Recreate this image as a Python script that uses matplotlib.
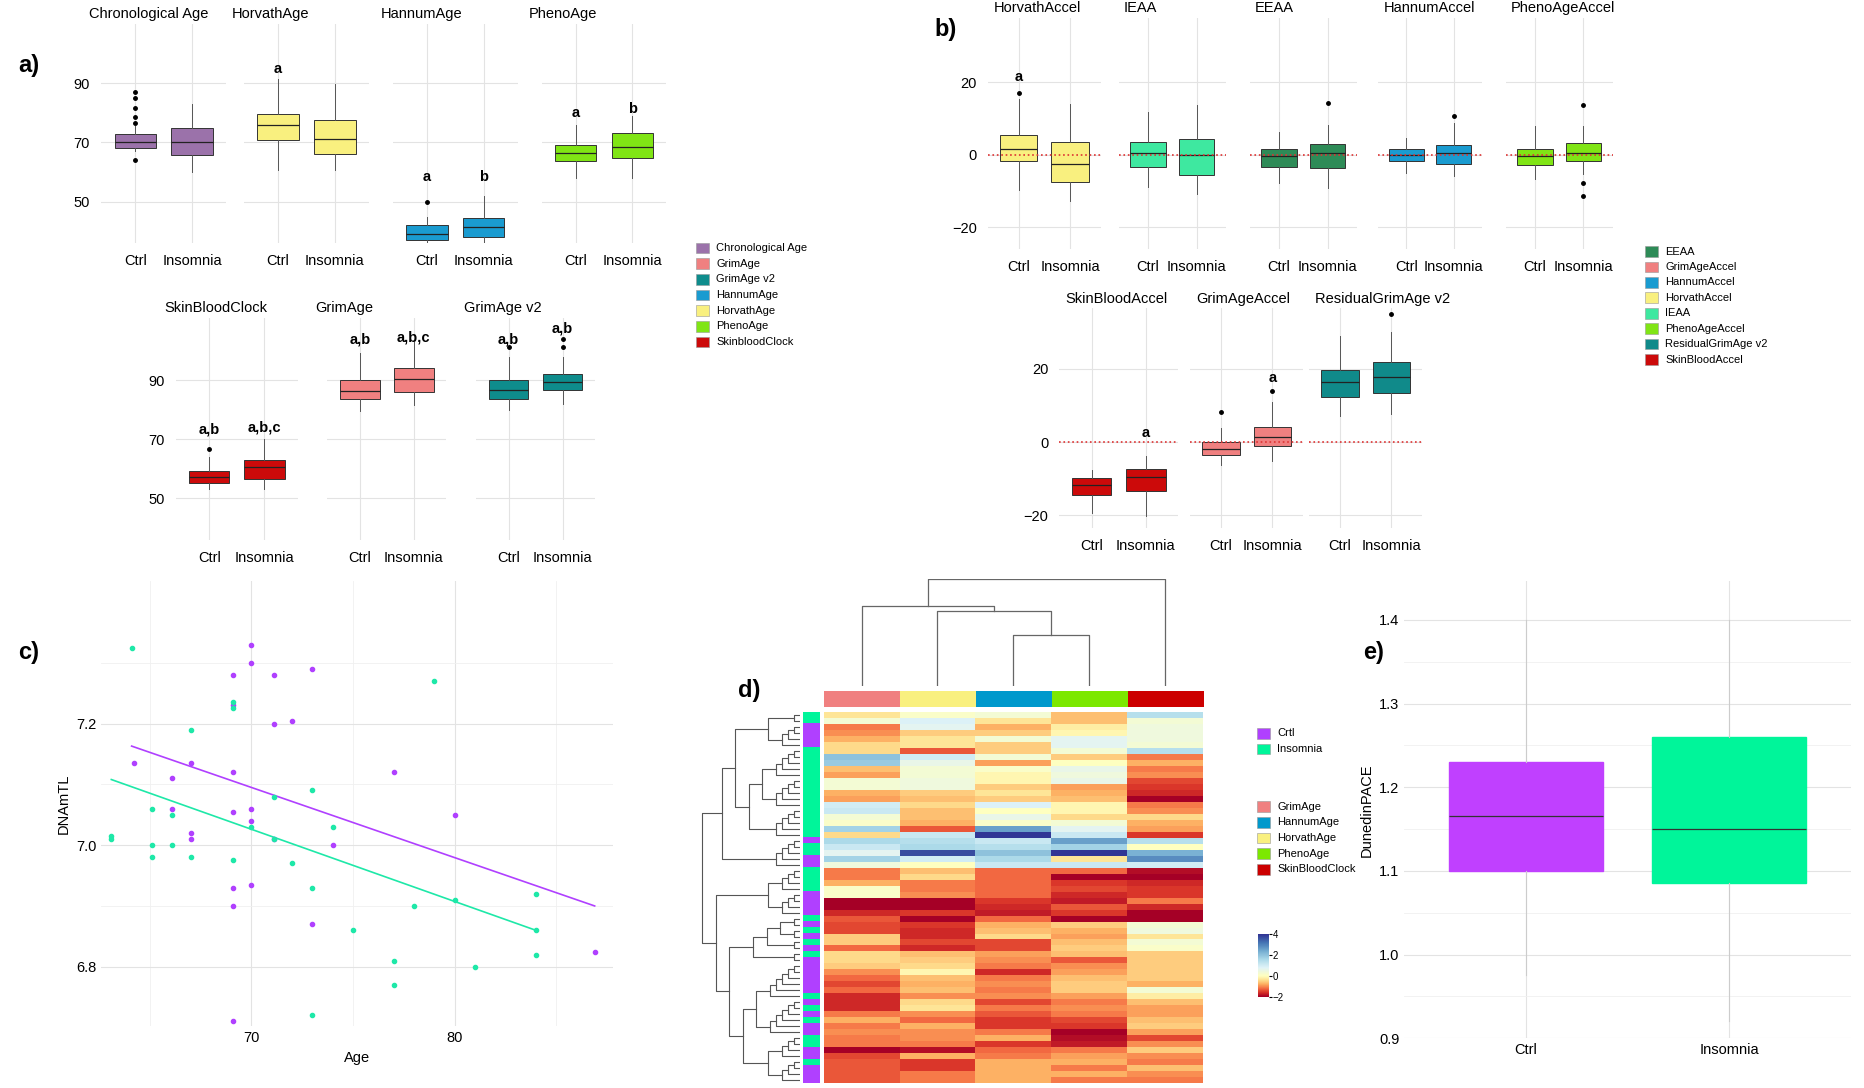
import numpy as np
import matplotlib
matplotlib.use("Agg")
import matplotlib.pyplot as plt
from matplotlib.colors import TwoSlopeNorm, ListedColormap
from matplotlib.patches import Rectangle

plt.rcParams['font.family'] = ['Liberation Sans', 'DejaVu Sans']

W, H = 1567.0, 917.0
fig = plt.figure(figsize=(18.65, 10.88), dpi=100)


def pos(x0, y0, x1, y1):
    return fig.add_axes([x0 / W, 1 - y1 / H, (x1 - x0) / W, (y1 - y0) / H])


groups = ['Ctrl', 'Insomnia']
GRID = '#e3e3e3'

# ---- panel a data: (title, colour, [ctrl, insomnia]) each stat = (whislo, q1, med, q3, whishi, fliers)
a_top = [
    ('Chronological Age', '#9b72aa', [(67.2, 68, 70, 72.8, 75.6, [87, 85, 81.5, 78.5, 76.4, 64]),
                                      (60, 65.6, 70, 74.8, 82.8, [])], ['', '']),
    ('HorvathAge', '#f9f07f', [(60.8, 70.8, 76, 79.6, 91.2, []),
                               (60.8, 66, 71.2, 77.6, 89.6, [])], ['a', '']),
    ('HannumAge', '#1a9bd0', [(36, 37.2, 39.2, 42, 44.8, [50]),
                              (36, 38, 41.6, 44.4, 52, [])], ['a', 'b']),
    ('PhenoAge', '#80e515', [(58, 63.6, 66.4, 69.2, 76, []),
                             (58, 64.8, 68.4, 73.2, 78.8, [])], ['a', 'b']),
]
a_top_lab_y = [[None, None], [92.5, None], [56, 56], [77.5, 79]]
a_bot = [
    ('SkinBloodClock', '#cc0a0a', [(53.2, 55.3, 57.3, 59.3, 64.1, [66.6]),
                                   (53.2, 56.5, 60.5, 62.9, 70.2, [])], ['a,b', 'a,b,c']),
    ('GrimAge', '#f08080', [(79.5, 83.5, 86.4, 90, 99.3, []),
                            (81.5, 86, 90.4, 94, 103, [])], ['a,b', 'a,b,c']),
    ('GrimAge v2', '#0e8c8c', [(80, 83.5, 86.8, 90, 97.7, [101.3]),
                               (82, 86.8, 89.2, 92, 97.7, [101.3, 104])], ['a,b', 'a,b']),
]
a_bot_lab_y = [[71, 71.5], [101.5, 102], [101.5, 105]]

# ---- panel b data
b_top = [
    ('HorvathAccel', '#f9f07f', [(-9.8, -1.6, 1.6, 5.5, 15.3, [17]),
                                 (-12.7, -7.5, -2.6, 3.6, 14, [])], ['a', '']),
    ('IEAA', '#3ee8a0', [(-8.8, -3.3, 0.6, 3.6, 11.7, []),
                         (-10.7, -5.5, 0, 4.2, 13.6, [])], ['', '']),
    ('EEAA', '#2e8b57', [(-7.8, -3.3, -0.3, 1.6, 6.2, []),
                         (-9.1, -3.6, 0.6, 2.9, 8.1, [14.3])], ['', '']),
    ('HannumAccel', '#1a9bd0', [(-4.9, -1.6, 0, 1.6, 4.5, []),
                                (-5.9, -2.6, 0.6, 2.6, 8.8, [10.7])], ['', '']),
    ('PhenoAgeAccel', '#80e515', [(-6.8, -2.9, -0.3, 1.6, 7.8, []),
                                  (-5.2, -1.6, 0.6, 3.2, 7.8, [13.7, -7.8, -11.4])], ['', '']),
]
b_top_lab_y = [[19.5, None]] + [[None, None]] * 4
b_bot = [
    ('SkinBloodAccel', '#cc0a0a', [(-19.5, -14.4, -11.8, -9.9, -7.7, []),
                                   (-20.2, -13.4, -9.6, -7.4, -3.8, [-25.3])], ['', 'a']),
    ('GrimAgeAccel', '#f08080', [(-6.4, -3.5, -1.9, 0, 3.8, [8.3]),
                                 (-5.1, -1.0, 1.3, 4.2, 10.9, [14])], ['', 'a']),
    ('ResidualGrimAge v2', '#108a8a', [(7.0, 12.2, 16.3, 19.8, 29.1, []),
                                       (7.7, 13.4, 17.9, 21.8, 30, [34.9])], ['', '']),
]
b_bot_lab_y = [[None, 0.5], [None, 15.5], [None, None]]

a_legend = [('Chronological Age', '#9b72aa'), ('GrimAge', '#f08080'), ('GrimAge v2', '#0e8c8c'),
            ('HannumAge', '#1a9bd0'), ('HorvathAge', '#f9f07f'), ('PhenoAge', '#80e515'),
            ('SkinbloodClock', '#cc0a0a')]
b_legend = [('EEAA', '#2e8b57'), ('GrimAgeAccel', '#f08080'), ('HannumAccel', '#1a9bd0'),
            ('HorvathAccel', '#f9f07f'), ('IEAA', '#3ee8a0'), ('PhenoAgeAccel', '#80e515'),
            ('ResidualGrimAge v2', '#108a8a'), ('SkinBloodAccel', '#cc0a0a')]

# ---- panel c data
c_ctrl_age = [64.2, 66.1, 67.0, 66.1, 67.0, 67.0, 69.1, 69.1, 69.1, 69.1, 69.1, 69.1, 69.1, 70, 70, 70, 70,
              70, 71.1, 71.1, 71.1, 72.0, 73, 73, 74, 77, 80, 86.9]
c_ctrl_tl = [7.136, 7.11, 7.135, 7.06, 7.02, 7.01, 7.28, 7.23, 7.12, 7.055, 6.93, 6.90, 6.71, 7.33, 7.30,
             7.06, 7.04, 6.935, 7.28, 7.2, 7.01, 7.205, 7.29, 6.87, 7.0, 7.12, 7.05, 6.825]
c_ins_age = [63.1, 63.1, 64.1, 65.1, 65.1, 65.1, 66.1, 66.1, 67, 67, 69.1, 69.1, 69.1, 70, 71.1, 71.1, 72,
             73, 73, 73, 74, 75, 77, 77, 78, 79, 80, 81, 84, 84, 84]
c_ins_tl = [7.01, 7.015, 7.325, 7.06, 6.98, 7.0, 7.05, 7.0, 7.19, 6.98, 7.235, 7.225, 6.975, 7.03, 7.08,
            7.01, 6.97, 7.09, 6.93, 6.72, 7.03, 6.86, 6.81, 6.77, 6.9, 7.27, 6.91, 6.8, 6.82, 6.86, 6.92]
c_ctrl_fit = ([64.1, 86.9], [7.163, 6.90])
c_ins_fit = ([63.1, 84.0], [7.108, 6.86])

# ---- panel d data (columns: GrimAge, HorvathAge, HannumAge, PhenoAge, SkinBloodClock)
d_cols = [('GrimAge', '#f08080'), ('HorvathAge', '#f9f07f'), ('HannumAge', '#0099cc'),
          ('PhenoAge', '#7ce800'), ('SkinBloodClock', '#cc0000')]
d_vals = [
    [-0.1, 0.3, 0.4, -0.4, 1.2], [0.4, 0.8, -0.1, -0.4, 0.4], [-0.8, 0.7, -0.5, 0.0, 0.5],
    [-0.7, -0.3, -0.3, 0.1, 0.5], [-0.5, -0.1, 0.4, 0.7, 0.5], [-0.2, -0.1, -0.3, 0.7, 0.4],
    [-0.2, -1.0, -0.3, 0.4, 1.2], [1.6, 0.9, 0.4, -0.3, -0.8], [1.5, 0.6, -0.6, 0.2, -0.5],
    [-0.4, 0.4, 0.3, 0.6, -0.8], [-0.6, 0.4, 0.1, 0.5, -0.7], [0.4, 0.5, 0.1, 0.6, -1.1],
    [0.4, 0.5, -0.3, -0.6, -1.2], [-0.5, -0.3, -0.1, -0.5, -1.3], [-0.6, -0.4, -0.3, -0.4, -1.8],
    [0.9, -0.2, 0.8, 0.1, -0.8], [1.0, -0.4, 0.2, 0.1, -0.7], [0.4, -0.4, 0.6, -0.2, -0.2],
    [0.3, -0.5, 0.3, 0.4, -0.5], [1.4, -1.0, 2.0, 0.7, -0.6], [-0.2, 1.0, 3.8, 1.0, -1.2],
    [1.3, 1.2, 1.0, 2.0, 1.2], [1.0, 1.3, 1.2, 1.4, 0.2], [0.7, 2.8, 1.6, 3.0, 1.8],
    [1.4, 0.9, 1.3, -0.1, 2.2], [0.5, 0.2, 1.0, 1.0, 0.9], [-0.8, -0.4, -0.9, -0.9, -1.5],
    [-0.8, -0.2, -0.9, -1.8, -1.8], [-0.5, -0.8, -0.9, -1.2, -1.3], [0.3, -0.8, -0.9, -1.1, -1.2],
    [0.3, -0.7, -0.9, -1.3, -1.2], [-1.9, -1.8, -1.2, -1.4, -0.8], [-1.9, -1.9, -1.3, -1.0, -1.3],
    [-1.3, -1.2, -1.4, -1.2, -1.9], [-1.0, -2.0, -0.9, -1.7, -1.9], [-1.1, -1.2, -0.5, -0.3, 0.4],
    [-1.1, -1.3, -0.4, -0.5, 0.5], [-0.3, -1.3, -0.2, -0.6, -0.1], [-0.3, -1.1, -1.1, -0.4, 0.4],
    [-0.9, -1.3, -1.1, -0.3, 0.3], [-0.2, -0.4, -0.6, -0.4, -0.3], [-0.2, -0.3, -0.7, -1.0, -0.3],
    [-0.3, -0.2, -0.8, -0.7, -0.3], [-0.7, 0.1, -1.3, -0.6, -0.3], [-0.9, -0.4, -0.8, -0.4, -0.3],
    [-1.1, -0.5, -0.7, -0.3, -0.5], [-0.9, -0.4, -0.8, -0.3, 0.4], [-1.3, -0.7, -0.7, -0.6, 0.0],
    [-1.3, -0.2, -1.1, -0.8, -0.4], [-1.3, -0.1, -0.8, -0.7, -0.6], [-0.8, -0.7, -1.0, -0.8, -0.6],
    [-0.5, -0.9, -1.2, -1.1, -0.4], [-0.8, -0.5, -1.2, -1.2, -0.3], [-0.7, -0.7, -0.8, -1.6, -0.6],
    [-0.8, -0.7, -0.5, -1.5, -1.1], [-0.8, -0.8, -1.2, -1.4, -0.7], [-1.8, -1.5, -0.9, -0.8, -0.3],
    [-1.1, -0.5, -0.8, -0.6, -0.7], [-1.0, -1.2, -0.5, -0.5, -0.8], [-1.0, -1.2, -0.5, -0.8, -0.4],
    [-1.0, -0.8, -0.5, -0.5, -0.7], [-1.0, -0.8, -0.5, -0.8, -0.8],
]
# row group: 0 = Ctrl (purple), 1 = Insomnia (green)
d_groups = ([1] * 2 + [0] * 4 + [1] * 15 + [0] + [1] * 2 + [0] * 2 + [1] * 4 + [0] * 4 + [1] + [0] + [1] +
            [0] + [1] + [0] + [1] + [0] * 6 + [1] + [0] + [1] + [0] + [1] + [0] * 2 + [1] * 2 + [0] * 2 +
            [1] + [0] * 3)
d_row_tree = [[[[2, 4], [[5, 5], 5]], 5], [[4, 4], [[2, 2, 2, 2], [[6, 6], [4, 4]]]]]
# column merges: (left, right, height)
d_col_merges = [(2, 3, 0.48), (1, 'g23', 0.70), (0, 'g123', 0.75), ('g0123', 4, 1.0)]

# ---- panel e data
e_stats = [(0.975, 1.10, 1.165, 1.23, 1.40), (0.92, 1.085, 1.15, 1.26, 1.40)]
e_colors = ['#c040ff', '#00f59a']

CTRL_C, INS_C = '#b040ff', '#1ee8a8'


def box_panel(ax, stats, color, ylim, yticks, show_y, labels, lab_y, width=0.73, wcol='#555555', zero=False):
    bx = []
    for s in stats:
        bx.append(dict(whislo=s[0], q1=s[1], med=s[2], q3=s[3], whishi=s[4],
                       fliers=s[5] if len(s) > 5 else []))
    ax.bxp(bx, positions=[1, 2], widths=width, patch_artist=True, showcaps=False,
           boxprops=dict(facecolor=color, edgecolor='#333333', linewidth=0.7),
           medianprops=dict(color='#222222', linewidth=0.9),
           whiskerprops=dict(color=wcol, linewidth=0.7),
           flierprops=dict(marker='o', markersize=2.5, markerfacecolor='black', markeredgecolor='black'))
    ax.set_xlim(0.4, 2.6)
    ax.set_ylim(*ylim)
    ax.set_xticks([1, 2], groups)
    ax.set_yticks(yticks)
    ax.grid(True, color=GRID, linewidth=0.8)
    ax.set_axisbelow(True)
    for sp in ax.spines.values():
        sp.set_visible(False)
    ax.tick_params(length=0, labelsize=10.5, pad=8)
    if not show_y:
        ax.set_yticklabels([])
    if zero:
        ax.axhline(0, color='#dd3333', linestyle=':', linewidth=1.2, zorder=3)
    for i, (t, yy) in enumerate(zip(labels, lab_y)):
        if t and yy is not None:
            ax.text(i + 1, yy, t, ha='center', va='bottom', fontsize=10.5, fontweight='bold')


# panel a
a_top_x = [(85, 190), (205, 310), (330, 435), (455, 560)]
for (x0, x1), (t, c, st, lb), ly in zip(a_top_x, a_top, a_top_lab_y):
    ax = pos(x0, 20, x1, 205)
    box_panel(ax, st, c, (36, 110), [50, 70, 90], x0 == 85, lb, ly)
    ax.set_title(t, fontsize=10.5, loc='left', x=-0.1, pad=4)
a_bot_x = [(148, 250), (275, 375), (400, 500)]
for (x0, x1), (t, c, st, lb), ly in zip(a_bot_x, a_bot, a_bot_lab_y):
    ax = pos(x0, 268, x1, 455)
    box_panel(ax, st, c, (36, 111), [50, 70, 90], x0 == 148, lb, ly)
    ax.set_title(t, fontsize=10.5, loc='left', x=-0.1, pad=4)

# panel b
b_top_x = [(830, 925), (940, 1030), (1050, 1140), (1158, 1245), (1265, 1355)]
for (x0, x1), (t, c, st, lb), ly in zip(b_top_x, b_top, b_top_lab_y):
    ax = pos(x0, 15, x1, 210)
    box_panel(ax, st, c, (-26, 37.7), [-20, 0, 20], x0 == 830, lb, ly, zero=True)
    ax.set_title(t, fontsize=10.5, loc='left', x=0.05, pad=4)
b_bot_x = [(890, 990), (1000, 1095), (1100, 1195)]
for (x0, x1), (t, c, st, lb), ly in zip(b_bot_x, b_bot, b_bot_lab_y):
    ax = pos(x0, 260, x1, 445)
    box_panel(ax, st, c, (-23.5, 36.5), [-20, 0, 20], x0 == 890, lb, ly, zero=True)
    ax.set_title(t, fontsize=10.5, loc='left', x=0.05, pad=4)


def square_legend(x, y, items, dy=13.2):
    for i, (name, col) in enumerate(items):
        yy = y + i * dy
        fig.patches.append(Rectangle((x / W, 1 - (yy + 4.5) / H), 11 / W, 9 / H, facecolor=col,
                                     edgecolor='#999999', linewidth=0.4, transform=fig.transFigure))
        fig.text((x + 17) / W, 1 - yy / H, name, fontsize=8, va='center')


square_legend(585, 209, a_legend)
square_legend(1382, 212, b_legend, dy=13)

# panel c
ax = pos(85, 490, 515, 865)
ax.scatter(c_ctrl_age, c_ctrl_tl, s=9, color=CTRL_C, zorder=3)
ax.scatter(c_ins_age, c_ins_tl, s=9, color=INS_C, zorder=3)
ax.plot(*c_ctrl_fit, color=CTRL_C, linewidth=1.2)
ax.plot(*c_ins_fit, color=INS_C, linewidth=1.2)
ax.set_xlim(62.6, 87.8)
ax.set_ylim(6.702, 7.434)
ax.set_xticks([70, 80])
ax.set_yticks([6.8, 7.0, 7.2], ['6.8', '7.0', '7.2'])
ax.set_xticks([65, 75, 85], minor=True)
ax.set_yticks([6.9, 7.1, 7.3], minor=True)
ax.grid(True, which='major', color=GRID, linewidth=0.8)
ax.grid(True, which='minor', color='#f0f0f0', linewidth=0.6)
for sp in ax.spines.values():
    sp.set_visible(False)
ax.tick_params(which='both', length=0, labelsize=10.5)
ax.set_xlabel('Age', fontsize=10.5)
ax.set_ylabel('DNAmTL', fontsize=10.5)

# panel d heatmap
vals = np.array(d_vals)
nrow = len(vals)
hm = pos(692, 600, 1011, 913)
norm = TwoSlopeNorm(vmin=-1.6, vcenter=0.2, vmax=3.0)
cm = plt.get_cmap('RdYlBu')
hm.pcolormesh(np.arange(6), np.arange(nrow + 1), vals, cmap=cm, norm=norm)
hm.set_ylim(nrow, 0)
hm.axis('off')

cb = pos(692, 582, 1011, 596)
cb.imshow([list(range(5))], aspect='auto',
          cmap=ListedColormap([c for _, c in d_cols]), extent=(0, 5, 0, 1))
cb.axis('off')

rb = pos(675, 600, 689, 913)
rb.imshow(np.array(d_groups)[:, None], aspect='auto', cmap=ListedColormap([CTRL_C, '#00f59a']),
          extent=(0, 1, nrow, 0), interpolation='nearest')
rb.set_ylim(nrow, 0)
rb.axis('off')

# column dendrogram
cd = pos(692, 488, 1011, 578)
cpos = {i: i + 0.5 for i in range(5)}
chgt = {i: 0.0 for i in range(5)}
for l, r, h in d_col_merges:
    xl, xr = cpos[l], cpos[r]
    cd.plot([xl, xl, xr, xr], [chgt[l], h, h, chgt[r]], color='#666666', linewidth=0.9)
    key = 'g' + ''.join(str(k)[1:] if isinstance(k, str) else str(k) for k in (l, r))
    cpos[key] = (xl + xr) / 2
    chgt[key] = h
cd.set_xlim(0, 5)
cd.set_ylim(0, 1.0)
cd.axis('off')

# row dendrogram
rd = pos(589, 600, 672, 913)
counter = [0]


def draw(node):
    if isinstance(node, int):
        start = counter[0]
        counter[0] += node
        yc, h = start + 0.5, 0.0
        for i in range(1, node):
            y2 = start + i + 0.5
            nh = 0.35 * i
            rd.plot([h, nh, nh, 0], [yc, yc, y2, y2], color='#555555', linewidth=0.8)
            yc, h = (yc + y2) / 2, nh
        return yc, h
    kids = [draw(k) for k in node]
    yc, h = kids[0]
    for y2, h2 in kids[1:]:
        nh = max(h, h2) + 0.8
        rd.plot([h, nh, nh, h2], [yc, yc, y2, y2], color='#555555', linewidth=0.8)
        yc, h = (yc + y2) / 2, nh
    return yc, h


_, top = draw(d_row_tree)
rd.set_xlim(top * 1.01, 0)
rd.set_ylim(nrow, 0)
rd.axis('off')

square_legend(1056, 618, [('Crtl', CTRL_C), ('Insomnia', '#00f59a')])
square_legend(1056, 680, [(n, c) for n, c in sorted(d_cols)])
cba = pos(1057, 787, 1066, 840)
cba.imshow(np.linspace(4, -2, 100)[:, None], aspect='auto', cmap=cm,
           norm=TwoSlopeNorm(vmin=-2, vcenter=0, vmax=4), extent=(0, 1, -2, 4))
cba.set_xticks([])
cba.yaxis.tick_right()
cba.set_yticks([-2, 0, 2, 4])
cba.tick_params(length=2, labelsize=7, pad=1)
for sp in cba.spines.values():
    sp.set_visible(False)

# panel e
ax = pos(1180, 490, 1555, 875)
bx = [dict(whislo=s[0], q1=s[1], med=s[2], q3=s[3], whishi=s[4], fliers=[]) for s in e_stats]
bp = ax.bxp(bx, positions=[1, 2], widths=0.76, patch_artist=True, showcaps=False,
            medianprops=dict(color='#333333', linewidth=0.9),
            whiskerprops=dict(color='#cccccc', linewidth=0.8))
for patch, col in zip(bp['boxes'], e_colors):
    patch.set_facecolor(col)
    patch.set_edgecolor(col)
ax.set_xlim(0.4, 2.6)
ax.set_ylim(0.9, 1.446)
ax.set_xticks([1, 2], groups)
ax.set_yticks([0.9, 1.0, 1.1, 1.2, 1.3, 1.4])
ax.set_yticks([0.95, 1.05, 1.15, 1.25, 1.35], minor=True)
ax.grid(True, which='major', color=GRID, linewidth=0.8)
ax.grid(True, which='minor', axis='y', color='#f0f0f0', linewidth=0.6)
ax.set_axisbelow(True)
for sp in ax.spines.values():
    sp.set_visible(False)
ax.tick_params(which='both', length=0, labelsize=10.5)
ax.set_ylabel('DunedinPACE', fontsize=10.5)

for lab, x, y in [('a)', 15, 55), ('b)', 785, 25), ('c)', 15, 550), ('d)', 620, 582), ('e)', 1145, 550)]:
    fig.text(x / W, 1 - y / H, lab, fontsize=17, fontweight='bold', va='center')

fig.savefig('out.png', dpi=100)
